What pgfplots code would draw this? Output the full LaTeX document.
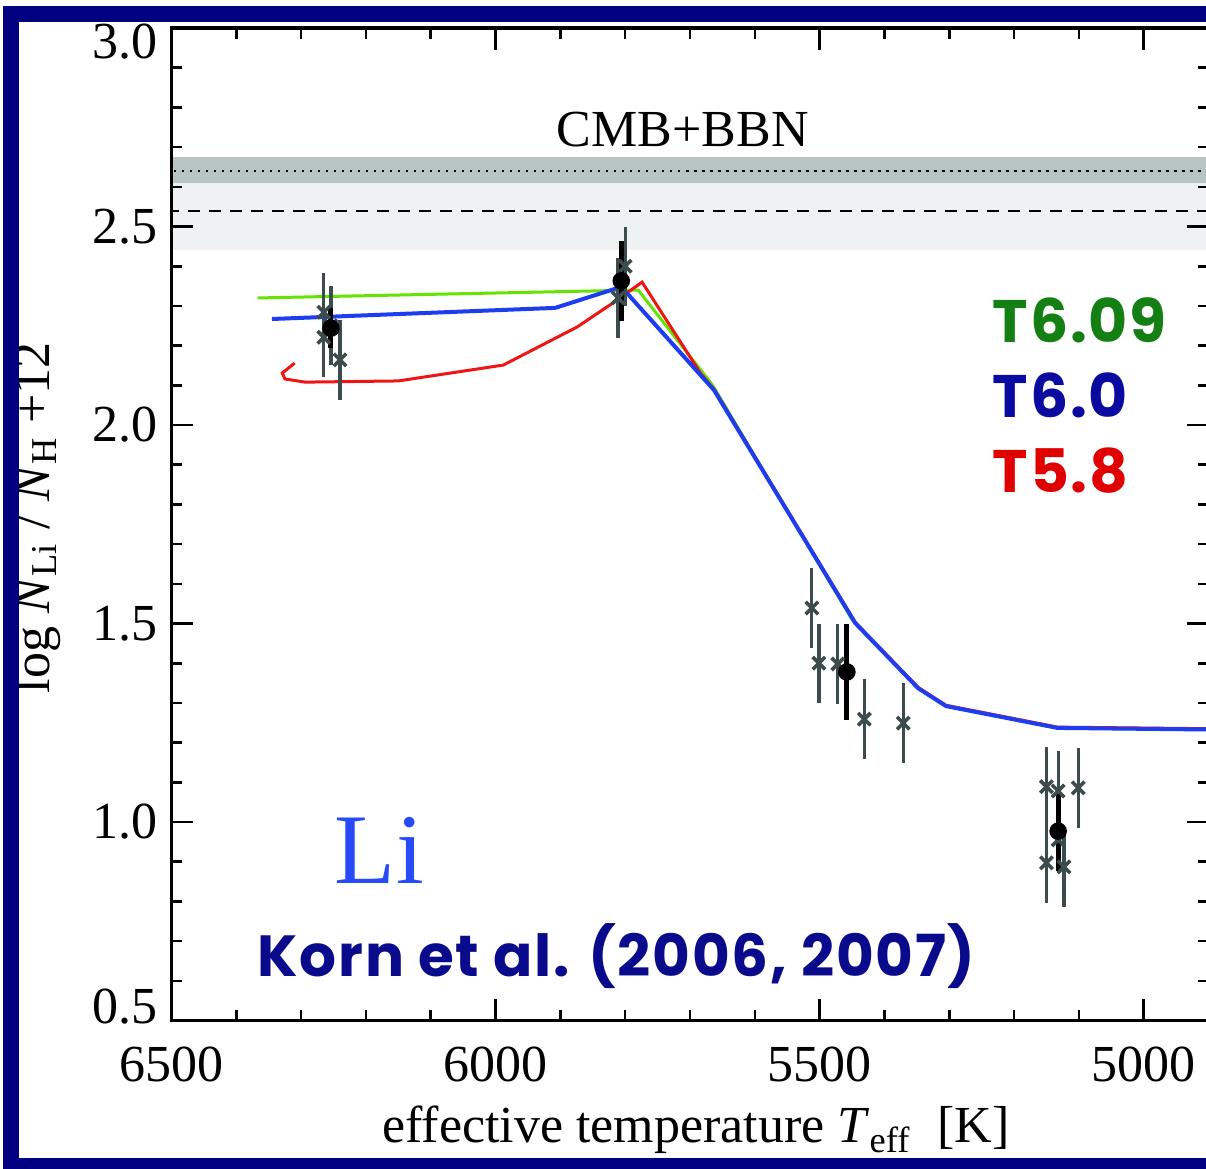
\documentclass[border=0pt]{standalone}
\usepackage{fontspec}
\setmainfont{Liberation Serif}
\newfontfamily\comicfont{Poppins}[LetterSpace=3]
\usepackage{pgfplots}
\pgfplotsset{compat=1.18}
\usepackage{pgfplotstable}

\definecolor{navyframe}{RGB}{0,0,128}
\definecolor{bandlight}{RGB}{238,242,242}
\definecolor{banddark}{RGB}{184,196,196}
\definecolor{ptgray}{RGB}{60,76,76}
\definecolor{lgreen}{RGB}{100,228,0}
\definecolor{lblue}{RGB}{30,60,240}
\definecolor{lred}{RGB}{240,20,20}
\definecolor{tgreen}{RGB}{20,128,20}
\definecolor{tblue}{RGB}{10,10,160}
\definecolor{tred}{RGB}{225,0,0}
\definecolor{kornblue}{RGB}{10,10,140}
\definecolor{liblue}{RGB}{40,75,250}

\pgfplotstableread{
T y
6367 2.320
5780 2.340
5665 2.100
5450 1.510
5445 1.501
5348 1.337
5305 1.292
5133 1.237
4900 1.233
}\greenline

\pgfplotstableread{
T y
6345 2.267
5908 2.295
5806 2.348
5663 2.088
5445 1.501
5348 1.337
5305 1.292
5133 1.237
4900 1.233
}\blueline

\pgfplotstableread{
T y
6310 2.156
6329 2.131
6325 2.116
6294 2.108
6150 2.111
5988 2.151
5874 2.247
5812 2.315
5774 2.360
5684 2.131
5663 2.090
5445 1.503
5348 1.339
5305 1.294
5133 1.239
4900 1.235
}\redline

\pgfplotstableread{
T y e
6265 2.284 0.10
6265 2.221 0.10
6254 2.250 0.10
6240 2.164 0.10
5800 2.400 0.10
5811 2.320 0.10
5512 1.539 0.10
5501 1.400 0.10
5472 1.398 0.10
5431 1.259 0.10
5371 1.249 0.10
5150 1.089 0.10
5150 0.897 0.10
5132 1.078 0.10
5132 0.955 0.08
5123 0.887 0.10
5101 1.086 0.10
}\graypts

\pgfplotstableread{
T y e
6254 2.244 0.05
5806 2.363 0.10
5458 1.378 0.12
5132 0.977 0.10
}\blackpts

\begin{document}
\begin{tikzpicture}
\useasboundingbox (0,0) rectangle (301.5pt,292pt);
\clip (0,0) rectangle (301.5pt,292pt);
\begin{axis}[
  at={(42.875pt,36.875pt)}, anchor=south west,
  scale only axis, width=259.25pt, height=248.125pt,
  xmin=4900, xmax=6500, x dir=reverse,
  ymin=0.5, ymax=3.0,
  xtick={5000,5500,6000,6500}, xticklabels={5000,5500,6000,6500},
  ytick={0.5,1.0,1.5,2.0,2.5,3.0},
  yticklabels={\raisebox{3.75pt}[0.68em][0pt]{0.5},1.0,1.5,2.0,2.5,\raisebox{-3.25pt}[0.68em][0pt]{3.0}},
  minor x tick num=4, minor y tick num=4,
  tick align=inside,
  major tick length=5.5pt, minor tick length=2.75pt,
  tick style={line width=0.65pt, black},
  axis line style={line width=0.8pt},
  axis on top,
  ticklabel style={font=\fontsize{13}{15}\selectfont},
  xticklabel style={yshift=-3pt},
  xlabel={effective temperature \textit{T}\textsubscript{eff}\enspace[K]},
  ylabel={log \textit{N}\textsubscript{Li} / \textit{N}\textsubscript{H} +12},
  label style={font=\fontsize{13}{15}\selectfont},
  xlabel style={at={(axis description cs:0.5058,-0.1234)}, anchor=base},
  ylabel style={at={(axis description cs:-0.1297,0.5065)}, anchor=center},
]
% CMB+BBN bands
\addplot[draw=none, fill=bandlight] coordinates {(4900,2.441) (6500,2.441) (6500,2.610) (4900,2.610)} -- cycle;
\addplot[draw=none, fill=banddark] coordinates {(4900,2.610) (6500,2.610) (6500,2.675) (4900,2.675)} -- cycle;
\addplot[black, line width=0.55pt, dash pattern=on 0.6pt off 1.4pt] coordinates {(4900,2.640) (6500,2.640)};
\addplot[black, line width=0.55pt, dash pattern=on 3pt off 2.25pt] coordinates {(4900,2.539) (6500,2.539)};
% model lines
\addplot[lgreen, line width=0.75pt, no marks] table[x=T,y=y] {\greenline};
\addplot[lred, line width=0.75pt, no marks] table[x=T,y=y] {\redline};
\addplot[lblue, line width=1pt, no marks] table[x=T,y=y] {\blueline};
% data
\addplot[ptgray, only marks, mark=x, mark size=2.2pt, mark options={line width=0.9pt},
  error bars/.cd, y dir=both, y explicit, error mark=none,
  error bar style={line width=0.8pt, ptgray}]
  table[x=T,y=y,y error=e] {\graypts};
\addplot[black, only marks, mark=*, mark size=2pt,
  error bars/.cd, y dir=both, y explicit, error mark=none,
  error bar style={line width=1.25pt, black}]
  table[x=T,y=y,y error=e] {\blackpts};
% texts
\node[font=\fontsize{13}{15}\selectfont] at (axis cs:5711,2.743) {CMB+BBN};
\node[anchor=base west, inner sep=0pt, text=liblue, font=\fontsize{25}{30}\selectfont] at (axis cs:6249,0.846) {Li};
\node[anchor=base west, inner sep=0pt, text=kornblue, font=\comicfont\bfseries\fontsize{14.5}{18}\selectfont] at (axis cs:6368,0.610) {Korn et al. (2006, 2007)};
\node[anchor=base west, inner sep=0pt, text=tgreen, font=\comicfont\bfseries\fontsize{15}{18}\selectfont] at (axis cs:5234,2.209) {T6.09};
\node[anchor=base west, inner sep=0pt, text=tblue, font=\comicfont\bfseries\fontsize{15}{18}\selectfont] at (axis cs:5234,2.020) {T6.0};
\node[anchor=base west, inner sep=0pt, text=tred, font=\comicfont\bfseries\fontsize{15}{18}\selectfont] at (axis cs:5234,1.831) {T5.8};
\end{axis}
\draw[navyframe, line width=4pt] (2.75pt,0.5pt) rectangle (307.5pt,288.5pt);
\end{tikzpicture}
\end{document}
